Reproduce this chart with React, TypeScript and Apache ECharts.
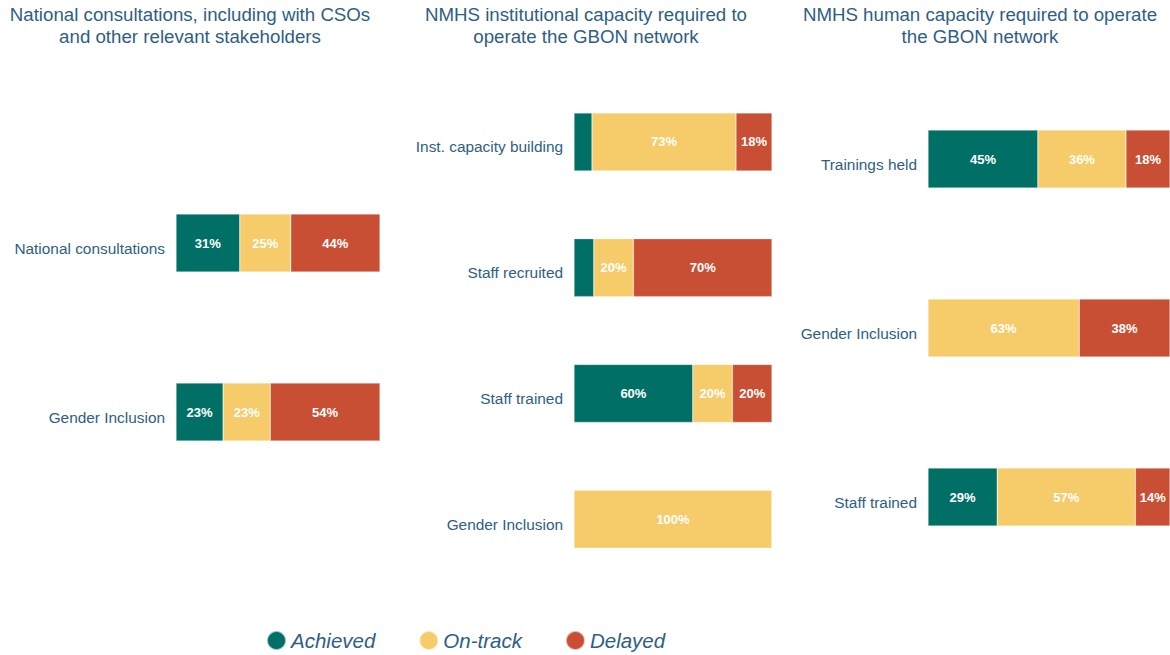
import React, { useEffect, useRef } from "react";
import * as echarts from "echarts";

const seriesNames = ["Achieved", "On-track", "Delayed"];
const colors = ["#006F66", "#F6CB69", "#C84F33"];

const p1Categories = ["National consultations", "Gender Inclusion"];
const p1Achieved = [31.25, 23.1];
const p1OnTrack = [25, 23.1];
const p1Delayed = [43.75, 53.8];

const p2Categories = ["Inst. capacity building", "Staff recruited", "Staff trained", "Gender Inclusion"];
const p2Achieved = [9.1, 10, 60, 0];
const p2OnTrack = [72.7, 20, 20, 100];
const p2Delayed = [18.2, 70, 20, 0];

const p3Categories = ["Trainings held", "Gender Inclusion", "Staff trained"];
const p3Achieved = [45.4, 0, 28.6];
const p3OnTrack = [36.4, 62.5, 57.1];
const p3Delayed = [18.2, 37.5, 14.3];

const titles = [
  "National consultations, including with CSOs\nand other relevant stakeholders",
  "NMHS institutional capacity required to\noperate the GBON network",
  "NMHS human capacity required to operate\nthe GBON network",
];

const TEXT = "#2E5E86";
const FONT = "Liberation Sans, Arial, sans-serif";

export default function App() {
  const ref = useRef<HTMLDivElement>(null);
  useEffect(() => {
    const chart = echarts.init(ref.current!, null, { renderer: "svg" });
    const panels = [
      { cats: p1Categories, data: [p1Achieved, p1OnTrack, p1Delayed] },
      { cats: p2Categories, data: [p2Achieved, p2OnTrack, p2Delayed] },
      { cats: p3Categories, data: [p3Achieved, p3OnTrack, p3Delayed] },
    ];
    const grids = [
      { left: 176, width: 204, top: 158.5, height: 338 },
      { left: 574, width: 198, top: 79, height: 503 },
      { left: 928, width: 245, top: 74.5, height: 507 },
    ];
    const series: any[] = [];
    panels.forEach((p, gi) => {
      p.data.forEach((vals, si) => {
        series.push({
          type: "bar",
          name: seriesNames[si],
          xAxisIndex: gi,
          yAxisIndex: gi,
          stack: "s" + gi,
          barWidth: 58,
          data: vals,
          itemStyle: { color: colors[si], borderColor: "rgba(255,255,255,0.6)", borderWidth: 0.5 },
          label: {
            show: true,
            position: "inside",
            color: "#fff",
            fontSize: 13,
            fontWeight: "bold",
            fontFamily: FONT,
            formatter: (pr: any) => (pr.value >= 12 ? Math.round(pr.value) + "%" : ""),
          },
        });
      });
    });
    chart.setOption({
      animation: false,
      backgroundColor: "#fff",
      legend: {
        data: seriesNames.map((n) => ({ name: n, icon: "circle" })),
        left: 261,
        top: 625,
        itemWidth: 19,
        itemHeight: 19,
        itemGap: 43,
        textStyle: {
          fontSize: 20.5,
          fontStyle: "italic",
          color: TEXT,
          fontFamily: FONT,
        },
      },
      grid: grids.map((g) => ({ ...g, containLabel: false })),
      xAxis: grids.map((_, i) => ({
        type: "value",
        gridIndex: i,
        min: 0,
        max: 100,
        show: false,
      })),
      yAxis: panels.map((p, i) => ({
        type: "category",
        gridIndex: i,
        data: p.cats,
        inverse: true,
        axisLine: { show: false },
        axisTick: { show: false },
        axisLabel: {
          color: TEXT,
          fontSize: 15.4,
          margin: 11,
          verticalAlign: "top",
          lineHeight: 10,
          fontFamily: FONT,
        },
      })),
      graphic: titles.map((t, i) => ({
        type: "text",
        x: [190, 586, 980][i],
        y: 3,
        style: {
          text: t,
          textAlign: "center",
          textVerticalAlign: "top",
          fill: TEXT,
          fontSize: 18.7,
          lineHeight: 22,
          fontFamily: FONT,
        },
      })),
      series,
    });
    return () => chart.dispose();
  }, []);
  return (
    <div
      ref={ref}
      style={{ position: "absolute", left: 0, top: 0, width: 1170, height: 655 }}
    />
  );
}
